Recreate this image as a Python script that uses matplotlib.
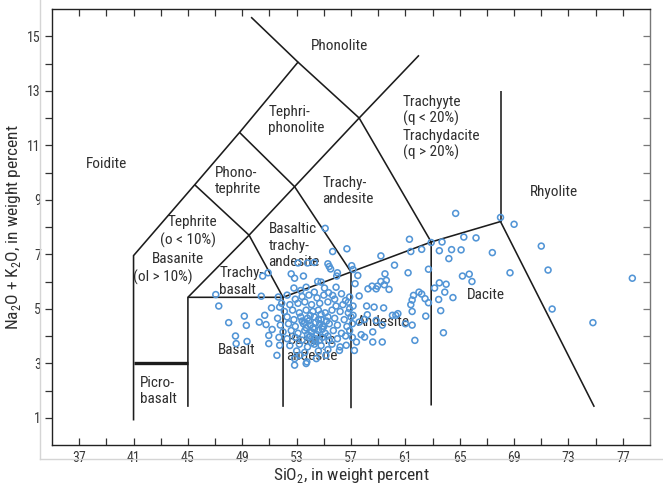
import matplotlib
matplotlib.use("Agg")
import matplotlib.pyplot as plt
import matplotlib.font_manager as fm
from matplotlib.lines import Line2D
import numpy as np

# ---------------- choose a condensed sans font if available ----------------
def pick_font():
    prefs = ['liberation sans narrow', 'roboto condensed', 'open sans condensed', 'noto sans condensed',
             'dejavu sans condensed', 'arial narrow']
    found = {}
    for f in fm.fontManager.ttflist:
        n = f.name.lower()
        st = str(f.stretch)
        if f.style != 'normal':
            continue
        if f.weight not in (400, 'normal', 'regular', 'book'):
            continue
        if 'narrow' in n or 'condensed' in n or st in ('condensed', 'semi-condensed', 'extra-condensed'):
            key = n if ('narrow' in n or 'condensed' in n) else n + ' condensed'
            found.setdefault(key, f)
    for p in prefs:
        if p in found:
            return found[p], True
    if found:
        return list(found.values())[0], True
    return None, False

fnt, condensed = pick_font()
if condensed:
    plt.rcParams['font.family'] = [fnt.name, 'DejaVu Sans']
    plt.rcParams['font.stretch'] = fnt.stretch
    plt.rcParams['mathtext.fontset'] = 'custom'
    plt.rcParams['mathtext.rm'] = fnt.name
    scale = 1.0
else:
    plt.rcParams['font.family'] = ['Liberation Sans', 'DejaVu Sans']
    plt.rcParams['mathtext.fontset'] = 'custom'
    plt.rcParams['mathtext.rm'] = 'Liberation Sans'
    scale = 0.86

# ---------------- TAS field boundaries (SiO2, Na2O+K2O) ----------------
bnd1_x = [41, 41, 45.5, 48.8, 53.1, 49.65]
bnd1_y = [0.9, 6.95, 9.55, 11.47, 14.05, 15.7]
bnd2_x = [45.5, 49.5, 52, 52]
bnd2_y = [9.55, 7.7, 5.42, 1.4]
bnd3_x = [48.8, 52.85, 57, 57]
bnd3_y = [11.47, 9.48, 6.35, 1.35]
bnd4_x = [53.1, 57.6, 62.9, 62.9]
bnd4_y = [14.05, 12.0, 7.45, 1.45]
bnd5_x = [45, 45, 49.5, 52.85, 57.6, 62.0]
bnd5_y = [1.4, 5.42, 7.7, 9.48, 12.0, 14.3]
bnd6_x = [45, 52, 57, 62.9, 68, 74.9]
bnd6_y = [5.42, 5.42, 6.35, 7.45, 8.2, 1.4]
bnd7_x = [68, 68]
bnd7_y = [8.2, 13.0]
picro_x = [41, 45]
picro_y = [3, 3]

# ---------------- samples ----------------
sio2_upper = [64.7, 68.0, 69.0, 61.3, 62.9, 63.7, 65.3, 66.2, 61.4, 62.2, 63.5, 64.4, 65.1, 67.4, 71.0,
              59.2, 64.2, 60.2, 62.7, 61.2, 71.5, 77.7, 68.7, 65.2, 65.7, 65.9, 59.5, 59.2, 71.8, 74.8]
alk_upper = [8.5, 8.35, 8.1, 7.55, 7.43, 7.45, 7.63, 7.6, 7.1, 7.18, 7.13, 7.17, 7.16, 7.06, 7.3,
             6.94, 6.84, 6.6, 6.45, 6.32, 6.42, 6.12, 6.32, 6.2, 6.27, 6.0, 6.28, 6.0, 4.99, 4.49]

sio2_andesite = [58.55, 58.85, 59.8, 63.5, 64.0, 63.15, 63.9, 64.5, 63.45, 62.0, 62.2, 61.6, 61.5, 62.45, 62.7,
                 61.4, 59.4, 60.3, 61.5, 63.6, 62.5, 63.8, 61.0, 61.5, 59.3, 61.7, 59.3, 58.6, 59.6, 59.45,
                 58.25, 58.95, 57.6, 58.7, 58.15, 57.3, 58.2, 58.85, 60.05, 60.45, 58.6, 58.0, 57.6, 57.25, 58.0,
                 57.75, 57.4, 57.15]
alk_andesite = [5.83, 5.73, 5.71, 5.95, 5.9, 5.76, 5.61, 5.41, 5.34, 5.61, 5.54, 5.49, 5.32, 5.37, 5.22,
                5.15, 5.03, 4.76, 4.9, 4.93, 4.73, 4.12, 4.45, 4.4, 4.4, 3.84, 3.78, 3.78, 6.04, 5.88,
                5.73, 5.83, 5.47, 5.06, 5.1, 5.92, 4.78, 4.57, 4.76, 4.82, 4.15, 3.96, 4.51, 3.47, 4.61,
                4.05, 3.78, 4.76]

sio2_trachy = [55.1, 55.65, 56.7, 55.3, 55.5, 57.05, 57.15, 57.5, 56.0, 54.3, 55.4, 50.5, 50.9, 52.6, 52.85,
               53.5, 53.8, 53.1, 54.55, 54.8, 55.95]
alk_trachy = [7.95, 7.1, 7.2, 6.65, 6.46, 6.58, 6.44, 6.22, 6.32, 6.7, 6.55, 6.2, 6.32, 6.28, 6.12,
              6.2, 6.68, 6.68, 6.0, 5.98, 6.2]

sio2_basalt = [47.05, 47.27, 50.4, 51.65, 52.8, 53.3, 53.7, 54.3, 55.05, 55.35, 55.9, 55.65, 56.9, 56.8, 57.15,
               48.0, 49.15, 49.3, 50.25, 50.75, 48.5, 48.55, 49.35, 50.95, 50.95, 51.75, 51.55, 52.85, 53.7, 54.45,
               53.25, 55.15, 56.15, 56.65, 50.65, 51.15, 51.75, 53.75, 52.85, 51.2]
alk_basalt = [5.52, 5.1, 5.46, 5.43, 5.76, 5.67, 5.79, 5.61, 5.76, 5.59, 5.79, 5.49, 5.43, 5.24, 5.1,
              4.49, 4.73, 4.39, 4.51, 4.42, 4.0, 3.72, 3.8, 4.02, 3.72, 3.66, 3.29, 2.93, 2.99, 3.17,
              3.29, 3.29, 3.47, 3.66, 4.76, 5.03, 5.06, 3.05, 3.17, 4.24]

sio2_core = [52.3, 52.9, 53.4, 53.9, 54.5, 55.0, 55.8, 56.3, 56.6,
             51.9, 52.5, 53.1, 53.6, 54.1, 54.7, 55.3, 55.9, 56.4,
             52.1, 52.7, 53.2, 53.7, 54.2, 54.6, 55.1, 55.6, 56.2, 56.8,
             51.6, 52.3, 52.8, 53.3, 53.8, 54.3, 54.8, 55.3, 55.8, 56.5, 57.0,
             51.8, 52.4, 52.9, 53.5, 54.0, 54.4, 54.9, 55.4, 56.0, 56.7,
             52.0, 52.6, 53.1, 53.6, 54.1, 54.6, 55.1, 55.7, 56.3,
             51.7, 52.3, 52.9, 53.4, 53.9, 54.4, 54.9, 55.4, 56.0, 56.6,
             52.5, 53.2, 53.8, 54.3, 54.8, 55.6, 56.2,
             53.0, 53.6, 54.6, 55.3,
             53.9, 54.2, 54.5, 54.7, 54.0, 53.7, 54.8, 55.2, 53.4, 54.1,
             56.9, 57.1, 56.9, 57.1,
             54.3, 54.6, 54.0, 54.9, 53.8, 55.0, 54.4, 53.6, 55.3, 54.7]
alk_core = [5.5, 5.35, 5.45, 5.5, 5.4, 5.5, 5.35, 5.55, 5.3,
            5.2, 5.15, 5.2, 5.25, 5.15, 5.2, 5.25, 5.1, 5.15,
            4.9, 4.95, 4.85, 4.95, 4.9, 4.95, 4.85, 4.95, 4.9, 4.85,
            4.65, 4.7, 4.6, 4.7, 4.65, 4.7, 4.6, 4.7, 4.65, 4.6, 4.7,
            4.4, 4.45, 4.35, 4.45, 4.4, 4.5, 4.35, 4.45, 4.4, 4.35,
            4.15, 4.2, 4.1, 4.2, 4.15, 4.2, 4.1, 4.2, 4.1,
            3.95, 3.9, 3.95, 3.85, 3.95, 3.9, 3.95, 3.85, 3.9, 4.0,
            3.65, 3.7, 3.6, 3.7, 3.65, 3.7, 3.6,
            3.45, 3.4, 3.45, 3.5,
            4.55, 4.3, 4.05, 4.45, 4.75, 4.3, 4.8, 4.55, 4.55, 3.75,
            5.0, 4.45, 4.2, 3.95,
            4.25, 4.6, 4.0, 4.25, 4.05, 4.35, 3.8, 4.5, 4.0, 3.85]

x_major = [37, 41, 45, 49, 53, 57, 61, 65, 69, 73, 77]
y_major = [1, 3, 5, 7, 9, 11, 13, 15]

# ---------------- figure ----------------
fig = plt.figure(figsize=(6.63, 4.88), dpi=100)
ax = fig.add_axes([52 / 663, 1 - 445 / 488, 598 / 663, 436 / 488])
ax.set_xlim(35, 79)
ax.set_ylim(0, 16)

line_col = '#1c1c1c'
for bx, by in [(bnd1_x, bnd1_y), (bnd2_x, bnd2_y), (bnd3_x, bnd3_y), (bnd4_x, bnd4_y),
               (bnd5_x, bnd5_y), (bnd6_x, bnd6_y), (bnd7_x, bnd7_y)]:
    ax.plot(bx, by, color=line_col, lw=1.15, solid_capstyle='butt', solid_joinstyle='miter', zorder=2)
ax.plot(picro_x, picro_y, color=line_col, lw=2.4, solid_capstyle='butt', zorder=2)

txt_col = '#2e2e2e'
fs = 11 * scale
def lab(x, y, s, ha='center'):
    ax.text(x, y, s, ha=ha, va='center', fontsize=fs, color=txt_col, zorder=1, linespacing=1.2)

lab(56.15, 14.63, 'Phonolite')
lab(50.9, 11.94, 'Tephri-\nphonolite', ha='left')
lab(39.0, 10.33, 'Foidite')
lab(47.0, 9.68, 'Phono-\ntephrite', ha='left')
lab(45.36, 8.2, 'Tephrite')
lab(45.04, 7.52, '(o < 10%)')
lab(44.26, 6.83, 'Basanite')
lab(43.18, 6.16, '(ol > 10%)')
lab(47.32, 6.0, 'Trachy-\nbasalt', ha='left')
lab(50.93, 7.32, 'Basaltic\ntrachy-\nandesite', ha='left')
lab(54.91, 9.33, 'Trachy-\nandesite', ha='left')
lab(60.8, 11.65, 'Trachyyte\n(q < 20%)\nTrachydacite\n(q > 20%)', ha='left')
lab(71.96, 9.29, 'Rhyolite')
lab(66.93, 5.52, 'Dacite')
lab(59.33, 4.51, 'Andesite')
lab(48.6, 3.47, 'Basalt')
lab(54.13, 3.57, 'Basaltic\nandesite')
lab(41.49, 1.98, 'Picro-\nbasalt', ha='left')

pt_col = '#5295D6'
for sx, sy in [(sio2_upper, alk_upper), (sio2_andesite, alk_andesite), (sio2_trachy, alk_trachy),
               (sio2_basalt, alk_basalt), (sio2_core, alk_core)]:
    ax.scatter(sx, sy, s=18, facecolors='none', edgecolors=pt_col, linewidths=1.15, zorder=3)

# axes styling
tick_col = '#3a3a3a'
ax.set_xticks(x_major)
ax.set_xticks(np.arange(39, 77, 4), minor=True)
ax.set_yticks(y_major)
ax.set_yticks(np.arange(2, 15, 2), minor=True)
ax.tick_params(axis='x', which='both', direction='in', length=5, width=0.9, top=True,
               color='#333333', labelsize=10 * scale, labelcolor=tick_col, pad=4)
ax.tick_params(axis='y', which='both', direction='out', length=5, width=0.9, right=False,
               color='#333333', labelsize=10 * scale, labelcolor=tick_col, pad=3)
for side in ['left', 'bottom', 'top']:
    ax.spines[side].set_color('#222222')
    ax.spines[side].set_linewidth(1.0)
ax.spines['right'].set_visible(False)
sec = ax.secondary_yaxis('right')
sec.set_yticks(np.arange(1, 16, 1))
sec.set_yticklabels([])
sec.tick_params(direction='in', length=5, width=0.9, color='#777777')
sec.spines['right'].set_color('#777777')
sec.spines['right'].set_linewidth(1.0)

ax.set_xlabel('SiO$_2$, in weight percent', fontsize=12.5 * scale, color=txt_col, labelpad=1)
ax.set_ylabel('Na$_2$O + K$_2$O, in weight percent', fontsize=12.5 * scale, color=txt_col, labelpad=3)

# faint frame lines of the original scan
fig.add_artist(Line2D([40 / 663, 40 / 663], [1.0, 1 - 459 / 488], transform=fig.transFigure,
                      color='#d5d5d5', lw=1.0))
fig.add_artist(Line2D([40 / 663, 1.0], [1 - 459 / 488, 1 - 459 / 488], transform=fig.transFigure,
                      color='#d5d5d5', lw=1.0))

fig.savefig('out.png', dpi=100)
